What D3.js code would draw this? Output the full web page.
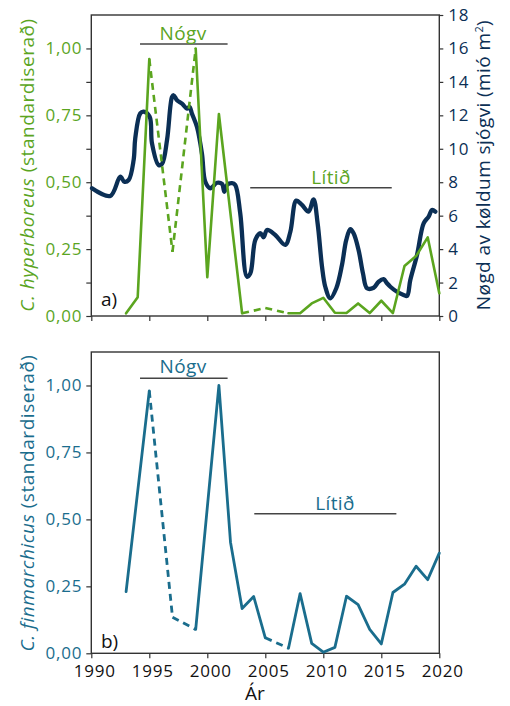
<!DOCTYPE html>
<html><head><meta charset="utf-8">
<script src="https://cdn.jsdelivr.net/npm/d3@7"></script>
<style>
body{margin:0;background:#fff;}
svg text{font-family:"Open Sans",sans-serif;}
</style></head><body>
<svg id="chart" width="510" height="706"></svg>
<script>
// ---- Data ----
// C. hyperboreus, standardised yearly index
const hypYears  = [1993,1994,1995,1997,1999,2000,2001,2003,2005,2007,2008,2009,2010,2011,2012,2013,2014,2015,2016,2017,2018,2019,2020];
const hypValues = [0.01,0.07,0.96,0.24,1.00,0.145,0.755,0.01,0.03,0.01,0.01,0.047,0.068,0.012,0.011,0.047,0.011,0.057,0.011,0.187,0.224,0.294,0.085];
// segments that start at these years bridge missing years and are dashed
const hypGapStarts = [1995,1997,2003,2005];

// C. finmarchicus, standardised yearly index
const finYears  = [1993,1995,1997,1999,2001,2002,2003,2004,2005,2007,2008,2009,2010,2011,2012,2013,2014,2015,2016,2017,2018,2019,2020];
const finValues = [0.23,0.98,0.135,0.089,1.00,0.415,0.167,0.212,0.058,0.019,0.223,0.037,0.004,0.022,0.213,0.182,0.089,0.035,0.227,0.258,0.325,0.275,0.374];
const finGapStarts = [1995,1997,2005];

// volume of cold water (million m²), smoothed series
const coldYears = [1990.06,1991.64,1992.5,1992.84,1993.22,1993.65,1993.79,1994.22,1994.51,1995.03,1995.23,1995.8,1996.1,1996.53,1996.96,1997.1,1997.39,1997.82,1998.25,1998.47,1998.68,1999.11,1999.54,1999.83,2000.26,2000.84,2001.27,2001.47,2001.7,2002.13,2002.41,2002.84,2003.42,2003.71,2004.14,2004.57,2004.85,2005.15,2005.86,2006.72,2007.16,2007.67,2008.16,2008.73,2009.16,2009.51,2009.89,2010.17,2010.6,2011.12,2011.61,2011.98,2012.33,2012.61,2013.04,2013.42,2013.77,2014.34,2014.77,2015.2,2015.49,2015.78,2016.35,2016.92,2017.22,2017.5,2018.08,2018.65,2019.08,2019.37,2019.66];
const coldValues = [7.64,7.18,8.33,8.03,8.13,9.33,10.63,12.12,12.22,11.92,10.33,9.03,9.1,10.53,13.1,13.2,12.9,12.7,12.4,12.5,12.1,11.3,9.7,8.03,7.64,7.97,7.9,7.43,7.83,7.94,7.83,6.14,2.35,2.55,4.55,4.95,4.71,5.14,4.84,4.25,5.04,6.9,6.64,6.24,6.98,5.54,2.95,1.75,1.06,1.66,3.05,4.55,5.19,4.95,3.95,2.55,1.66,1.69,2.05,2.2,1.96,1.75,1.45,1.26,1.2,2.15,3.65,5.54,5.94,6.34,6.24];

// periods of high ("Nógv") and low ("Lítið") abundance
const hypHigh = [1994.2, 2001.75];
const hypLow  = [2003.7, 2015.9];
const finHigh = [1994.2, 2001.75];
const finLow  = [2004.05, 2016.3];

const xTicks = [1990,1995,2000,2005,2010,2015,2020];
const yTicksMajor = [0,0.25,0.5,0.75,1.0];
const yTicksMinor = [0,0.125,0.25,0.375,0.5,0.625,0.75,0.875,1.0];
const coldTicks = [0,2,4,6,8,10,12,14,16,18];

// ---- Styles ----
const GREEN = "#5ba51f", NAVY = "#0b2f55", TEAL = "#1a6d8d", AXIS = "#333";
const svg = d3.select("#chart");
const L = 91.3, R = 439.3;
const x = d3.scaleLinear().domain([1990, 2020]).range([L, R]);
const fmt = v => d3.format(".2f")(v).replace(".", ",");

function panel(top, bottom) {
  return d3.scaleLinear().domain([0, 1.125]).range([bottom, top]);
}
const yA = panel(15, 316);
const yB = panel(352, 653.3);
const yC = d3.scaleLinear().domain([0, 18]).range([316, 15]);

function styleAxis(g, color) {
  g.select(".domain").remove();
  g.selectAll(".tick line").attr("stroke", AXIS).attr("stroke-width", 1.2);
  g.selectAll(".tick text").attr("fill", color)
    .style("font-size", "17px").style("letter-spacing", "0.8px");
}

// draw a yearly series: solid runs plus dashed bridges over missing years
function drawSeries(years, values, gapStarts, y, color, width, dash) {
  const pts = years.map((yr, i) => [x(yr), y(values[i]), yr]);
  const line = d3.line();
  let run = [pts[0]];
  const runs = [];
  const dashed = [];
  for (let i = 1; i < pts.length; i++) {
    if (gapStarts.includes(pts[i - 1][2])) {
      if (run.length > 1) runs.push(run);
      dashed.push([pts[i - 1], pts[i]]);
      run = [pts[i]];
    } else {
      run.push(pts[i]);
    }
  }
  if (run.length > 1) runs.push(run);
  runs.forEach(r => svg.append("path")
    .attr("d", line(r.map(p => [p[0], p[1]])))
    .attr("fill", "none").attr("stroke", color).attr("stroke-width", width)
    .attr("stroke-linejoin", "round").attr("stroke-linecap", "round"));
  dashed.forEach(r => svg.append("path")
    .attr("d", line(r.map(p => [p[0], p[1]])))
    .attr("fill", "none").attr("stroke", color).attr("stroke-width", width)
    .attr("stroke-dasharray", dash));
}

function periodMark(span, yPix, label, color, labelX, baseY) {
  svg.append("line")
    .attr("x1", x(span[0])).attr("x2", x(span[1]))
    .attr("y1", yPix).attr("y2", yPix)
    .attr("stroke", "#444").attr("stroke-width", 1.5);
  svg.append("text").attr("x", labelX).attr("y", baseY)
    .attr("text-anchor", "middle").attr("fill", color)
    .style("font-size", "19px").style("letter-spacing", "0.4px").text(label);
}

// ---- Panel a ----
svg.append("g").attr("transform", `translate(${L},0)`)
  .call(d3.axisLeft(yA).tickValues(yTicksMinor).tickSize(5).tickPadding(4)
    .tickFormat(v => yTicksMajor.some(t => Math.abs(t - v) < 1e-9) ? fmt(v) : ""))
  .call(g => styleAxis(g, GREEN));
svg.append("g").attr("transform", `translate(${R},0)`)
  .call(d3.axisRight(yC).tickValues(coldTicks).tickSize(4).tickPadding(5))
  .call(g => styleAxis(g, NAVY));
svg.append("g").attr("transform", "translate(0,316)")
  .call(d3.axisBottom(x).tickValues(xTicks).tickSize(5).tickFormat(""))
  .call(g => styleAxis(g, AXIS));
svg.append("rect").attr("x", L).attr("y", 15).attr("width", R - L).attr("height", 301)
  .attr("fill", "none").attr("stroke", AXIS).attr("stroke-width", 1.4);

periodMark(hypHigh, 44, "Nógv", GREEN, 183, 39.5);
periodMark(hypLow, 187.7, "Lítið", GREEN, 331, 183.5);

svg.append("path")
  .datum(coldYears.map((yr, i) => [x(yr), yC(coldValues[i])]))
  .attr("d", d3.line().curve(d3.curveCatmullRom))
  .attr("fill", "none").attr("stroke", NAVY).attr("stroke-width", 4.3)
  .attr("stroke-linejoin", "round").attr("stroke-linecap", "round");

drawSeries(hypYears, hypValues, hypGapStarts, yA, GREEN, 2.6, "7,5");

svg.append("text").attr("x", 101).attr("y", 306).attr("fill", "#111")
  .style("font-size", "19px").text("a)");

const tA = svg.append("text").attr("transform", "translate(34,165) rotate(-90)")
  .attr("text-anchor", "middle").attr("fill", GREEN)
  .style("font-size", "19px").style("letter-spacing", "0.55px");
tA.append("tspan").attr("font-style", "italic").text("C. hyperboreus");
tA.append("tspan").text(" (standardiserað)");

const tC = svg.append("text").attr("transform", "translate(490,165) rotate(-90)")
  .attr("text-anchor", "middle").attr("fill", NAVY)
  .style("font-size", "19px").style("letter-spacing", "0.4px");
tC.append("tspan").text("Nøgd av køldum sjógvi (mió m");
tC.append("tspan").attr("baseline-shift", "super").style("font-size", "11px").text("2");
tC.append("tspan").text(")");

// ---- Panel b ----
svg.append("g").attr("transform", `translate(${L},0)`)
  .call(d3.axisLeft(yB).tickValues(yTicksMajor).tickSize(5).tickPadding(4).tickFormat(fmt))
  .call(g => styleAxis(g, TEAL));
svg.append("g").attr("transform", "translate(0,653.3)")
  .call(d3.axisBottom(x).tickValues(xTicks).tickSize(5).tickPadding(6.5).tickFormat(d3.format("d")))
  .call(g => styleAxis(g, "#111"))
  .call(g => g.selectAll(".tick text").attr("dx", 3));
svg.append("rect").attr("x", L).attr("y", 352).attr("width", R - L).attr("height", 301.3)
  .attr("fill", "none").attr("stroke", AXIS).attr("stroke-width", 1.4);

periodMark(finHigh, 378.3, "Nógv", TEAL, 183, 373.3);
periodMark(finLow, 513.7, "Lítið", TEAL, 335, 509.5);

drawSeries(finYears, finValues, finGapStarts, yB, TEAL, 2.8, "7,5");

svg.append("text").attr("x", 101).attr("y", 648).attr("fill", "#111")
  .style("font-size", "19px").text("b)");

const tB = svg.append("text").attr("transform", "translate(34,503) rotate(-90)")
  .attr("text-anchor", "middle").attr("fill", TEAL)
  .style("font-size", "19px").style("letter-spacing", "0.55px");
tB.append("tspan").attr("font-style", "italic").text("C. finmarchicus");
tB.append("tspan").text(" (standardiserað)");

svg.append("text").attr("x", 255).attr("y", 700).attr("text-anchor", "middle")
  .attr("fill", "#111").style("font-size", "19px").text("Ár");
</script>
</body></html>
